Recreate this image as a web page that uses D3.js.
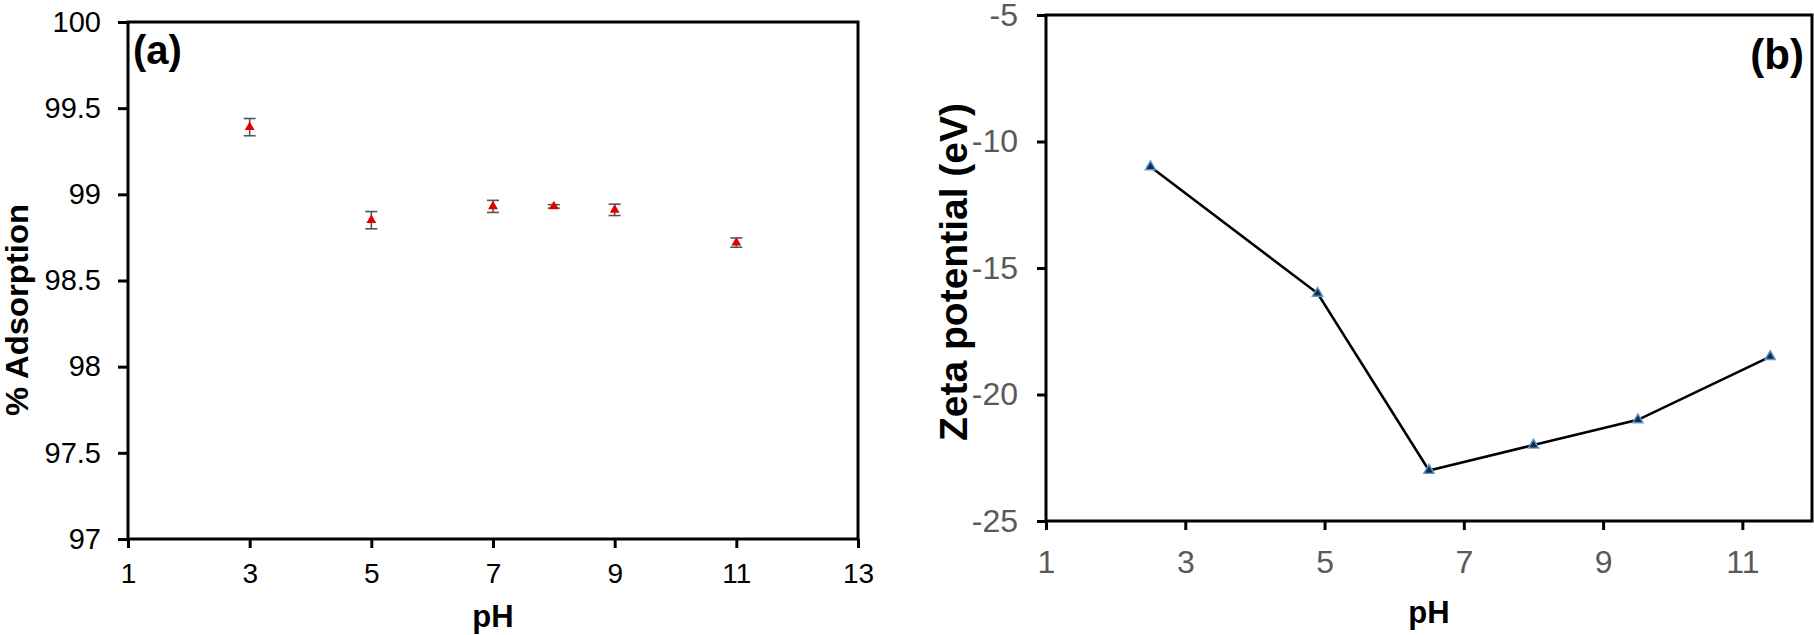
<!DOCTYPE html>
<html>
<head>
<meta charset="utf-8">
<script src="https://cdn.jsdelivr.net/npm/d3@7"></script>
<style>
  html, body { margin: 0; padding: 0; background: #fff; }
  svg { display: block; font-family: Arial, "Liberation Sans", sans-serif; }
</style>
</head>
<body>
<svg id="svg" width="1814" height="635"></svg>
<script>
// panel (a): % adsorption vs pH
const phA = [3, 5, 7, 8, 9, 11];
const adsorption = [99.39, 98.85, 98.93, 98.93, 98.91, 98.72];
const adsorptionErr = [0.05, 0.05, 0.035, 0.01, 0.033, 0.027];
const ticksAX = [1, 3, 5, 7, 9, 11, 13];
const ticksAY = [97, 97.5, 98, 98.5, 99, 99.5, 100];

// panel (b): zeta potential vs pH
const phB = [2.5, 4.9, 6.5, 8, 9.5, 11.4];
const zeta = [-11, -16, -23, -22, -21, -18.5];
const ticksBX = [1, 3, 5, 7, 9, 11];
const ticksBY = [-25, -20, -15, -10, -5];

const svg = d3.select("#svg");

function frame(g, x0, x1, y0, y1) {
  g.append("rect")
    .attr("x", x0).attr("y", y0)
    .attr("width", x1 - x0).attr("height", y1 - y0)
    .attr("fill", "none")
    .attr("stroke", "#000")
    .attr("stroke-width", 3);
}

function styleAxis(g, color, size) {
  g.select(".domain").remove();
  g.selectAll(".tick line").attr("stroke", "#000").attr("stroke-width", 3);
  g.selectAll(".tick text")
    .attr("fill", color)
    .style("font-size", size + "px");
}

// ---------- panel (a) ----------
const xA = d3.scaleLinear().domain([1, 13]).range([128, 858]);
const yA = d3.scaleLinear().domain([97, 100]).range([539, 22]);

const gA = svg.append("g");

gA.append("g")
  .attr("transform", `translate(0,${yA(97)})`)
  .call(d3.axisBottom(xA).tickValues(ticksAX).tickFormat(d3.format("d")).tickSize(9).tickPadding(15).tickSizeOuter(0))
  .call(g => styleAxis(g, "#000", 28));

gA.append("g")
  .attr("transform", `translate(${xA(1)},0)`)
  .call(d3.axisLeft(yA).tickValues(ticksAY).tickFormat(d => d).tickSize(10).tickPadding(17).tickSizeOuter(0))
  .call(g => styleAxis(g, "#000", 29));

frame(gA, xA(1), xA(13), yA(100), yA(97));

// error bars
const errA = gA.append("g").attr("stroke", "#555").attr("stroke-width", 1.6);
phA.forEach((p, i) => {
  const cx = xA(p);
  const hi = yA(adsorption[i] + adsorptionErr[i]);
  const lo = yA(adsorption[i] - adsorptionErr[i]);
  errA.append("line").attr("x1", cx).attr("x2", cx).attr("y1", hi).attr("y2", lo);
  errA.append("line").attr("x1", cx - 6).attr("x2", cx + 6).attr("y1", hi).attr("y2", hi);
  errA.append("line").attr("x1", cx - 6).attr("x2", cx + 6).attr("y1", lo).attr("y2", lo);
});

gA.selectAll("path.mark")
  .data(phA)
  .join("path")
  .attr("class", "mark")
  .attr("d", d3.symbol(d3.symbolTriangle, 42))
  .attr("transform", (d, i) => `translate(${xA(d)},${yA(adsorption[i])})`)
  .attr("fill", "#e00000");

gA.append("text")
  .attr("x", 133).attr("y", 64)
  .style("font-size", "40px").style("font-weight", "bold")
  .text("(a)");

gA.append("text")
  .attr("x", (xA(1) + xA(13)) / 2).attr("y", 627)
  .attr("text-anchor", "middle")
  .style("font-size", "31px").style("font-weight", "bold")
  .text("pH");

// the original label is squeezed along its length
gA.append("text")
  .attr("transform", "translate(28,310) rotate(-90)")
  .attr("text-anchor", "middle")
  .attr("textLength", 212)
  .attr("lengthAdjust", "spacingAndGlyphs")
  .style("font-size", "32px").style("font-weight", "bold")
  .text("% Adsorption");

// ---------- panel (b) ----------
const xB = d3.scaleLinear().domain([1, 12]).range([1046, 1812]);
const yB = d3.scaleLinear().domain([-25, -5]).range([521, 15]);

const gB = svg.append("g");

gB.append("g")
  .attr("transform", `translate(0,${yB(-25)})`)
  .call(d3.axisBottom(xB).tickValues(ticksBX).tickFormat(d3.format("d")).tickSize(9).tickPadding(20).tickSizeOuter(0))
  .call(g => styleAxis(g, "#595959", 32));

gB.append("g")
  .attr("transform", `translate(${xB(1)},0)`)
  .call(d3.axisLeft(yB).tickValues(ticksBY).tickFormat(d => d).tickSize(9).tickPadding(19).tickSizeOuter(0))
  .call(g => styleAxis(g, "#595959", 32));

frame(gB, xB(1), xB(12), yB(-5), yB(-25));

const line = d3.line()
  .x((d, i) => xB(phB[i]))
  .y(d => yB(d));

gB.append("path")
  .datum(zeta)
  .attr("d", line)
  .attr("fill", "none")
  .attr("stroke", "#000")
  .attr("stroke-width", 2.6);

gB.selectAll("path.mark")
  .data(phB)
  .join("path")
  .attr("class", "mark")
  .attr("d", d3.symbol(d3.symbolTriangle, 46))
  .attr("transform", (d, i) => `translate(${xB(d)},${yB(zeta[i])})`)
  .attr("fill", "#1f2a44")
  .attr("stroke", "#5b9bd5")
  .attr("stroke-width", 1.4);

gB.append("text")
  .attr("x", 1804).attr("y", 69)
  .attr("text-anchor", "end")
  .style("font-size", "42px").style("font-weight", "bold")
  .text("(b)");

gB.append("text")
  .attr("x", (xB(1) + xB(12)) / 2).attr("y", 623)
  .attr("text-anchor", "middle")
  .style("font-size", "31px").style("font-weight", "bold")
  .text("pH");

gB.append("text")
  .attr("transform", "translate(967,272) rotate(-90)")
  .attr("text-anchor", "middle")
  .style("font-size", "39px").style("font-weight", "bold")
  .text("Zeta potential (eV)");
</script>
</body>
</html>
